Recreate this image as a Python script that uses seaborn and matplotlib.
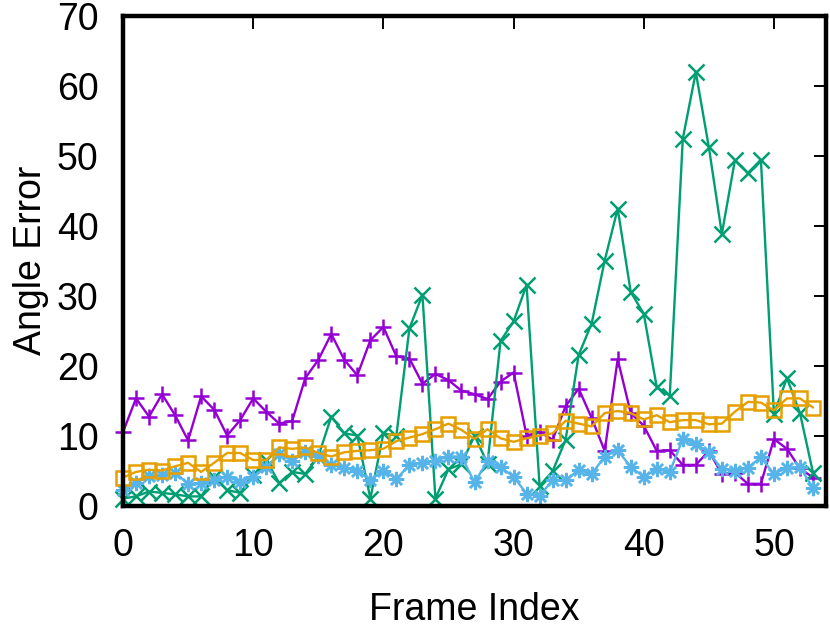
import numpy as np
import pandas as pd
import matplotlib
matplotlib.use("Agg")
import matplotlib.pyplot as plt
import seaborn as sns

# ---- data ----
frame_index = list(range(54))

series_purple = [10.5, 15.3, 12.7, 15.9, 12.9, 9.3, 15.6, 13.7, 10.0, 12.2,
                 15.3, 13.4, 11.7, 12.1, 18.2, 20.8, 24.5, 20.8, 18.6, 23.6,
                 25.5, 21.3, 21.0, 17.4, 18.8, 17.9, 16.4, 15.9, 15.2, 17.7,
                 19.0, 10.0, 10.5, 9.4, 14.2, 16.7, 12.5, 7.8, 20.9, 13.2,
                 11.4, 7.8, 7.9, 5.8, 5.8, 7.8, 4.5, 4.7, 3.1, 3.1,
                 9.5, 8.1, 5.3, 4.0]

series_green = [1.0, 1.3, 2.0, 1.8, 1.6, 1.3, 1.3, 4.1, 2.2, 1.8,
                4.3, 6.5, 3.2, 4.8, 4.5, 7.0, 12.7, 10.3, 10.0, 1.0,
                10.3, 10.0, 25.3, 30.1, 1.0, 5.2, 5.9, 10.0, 6.0, 23.5,
                26.3, 31.5, 2.8, 4.9, 9.4, 21.5, 26.0, 35.0, 42.4, 30.5,
                27.4, 16.9, 15.7, 52.4, 61.9, 51.2, 38.8, 49.3, 47.5, 49.4,
                13.1, 18.2, 13.2, 4.7]

series_blue = [2.2, 3.2, 4.2, 4.4, 4.7, 3.1, 3.2, 3.7, 4.1, 3.4,
               4.1, 5.5, 7.3, 6.4, 7.7, 7.1, 5.8, 5.4, 5.0, 3.6,
               5.0, 3.8, 5.8, 6.1, 6.4, 7.0, 7.0, 3.3, 6.3, 5.5,
               4.1, 1.7, 1.4, 3.6, 3.6, 5.1, 4.5, 7.0, 7.9, 5.5,
               4.1, 5.2, 4.8, 9.5, 8.8, 7.6, 5.2, 5.0, 5.4, 6.9,
               4.5, 5.4, 5.5, 2.5]

series_orange = [4.0, 4.8, 5.1, 5.0, 5.6, 6.1, 4.8, 6.1, 7.5, 7.5,
                 6.5, 6.5, 8.3, 8.1, 8.3, 7.5, 7.0, 7.6, 7.8, 7.9,
                 8.1, 9.2, 9.7, 10.2, 10.9, 11.7, 10.8, 9.5, 10.9, 9.6,
                 9.1, 9.6, 10.0, 10.3, 12.1, 11.7, 11.3, 13.2, 13.5, 13.2,
                 12.3, 12.9, 11.9, 12.2, 12.2, 11.6, 11.7, 13.4, 14.8, 14.7,
                 13.6, 15.3, 15.3, 14.0]

x_ticks = [0, 10, 20, 30, 40, 50]
y_ticks = [0, 10, 20, 30, 40, 50, 60, 70]
x_label = "Frame Index"
y_label = "Angle Error"

# ---- styling ----
sns.set_theme(style="white")
plt.rcParams["font.family"] = ["Liberation Sans", "DejaVu Sans"]

FS = 27

fig = plt.figure(figsize=(8.3, 6.33), dpi=100)
ax = fig.add_axes([123 / 830, 1 - 505.5 / 633, (826 - 123) / 830, (505.5 - 15.5) / 633])

styles = [
    (series_purple, "#9400d3", "+", "full"),
    (series_green, "#009e73", "x", "full"),
    (series_blue, "#56b4e9", (8, 2, 0), "full"),
    (series_orange, "#e69f00", "s", "none"),
]

for vals, col, mk, fill in styles:
    df = pd.DataFrame({"frame": frame_index, "err": vals})
    kws = dict(color=col, marker=mk, markersize=11, markeredgecolor=col,
               markeredgewidth=1.8, linewidth=1.7, clip_on=False)
    if fill == "none":
        kws["markerfacecolor"] = "none"
        kws["markersize"] = 10.5
    sns.lineplot(data=df, x="frame", y="err", ax=ax, **kws)

ax.set_xlim(0, 54)
ax.set_ylim(0, 70)
ax.set_xticks(x_ticks)
ax.set_yticks(y_ticks)
ax.tick_params(axis="both", direction="in", length=9, width=1.4, color="black",
               labelsize=FS, top=True, right=True, labelcolor="black")
ax.tick_params(axis="x", pad=16)
ax.tick_params(axis="y", pad=17.5)
for sp in ax.spines.values():
    sp.set_linewidth(3.2)
    sp.set_color("black")
ax.set_xlabel(x_label, fontsize=FS, labelpad=20, color="black")
ax.set_ylabel(y_label, fontsize=FS, labelpad=6, color="black")
ax.grid(False)

fig.savefig("out.png", dpi=100)
